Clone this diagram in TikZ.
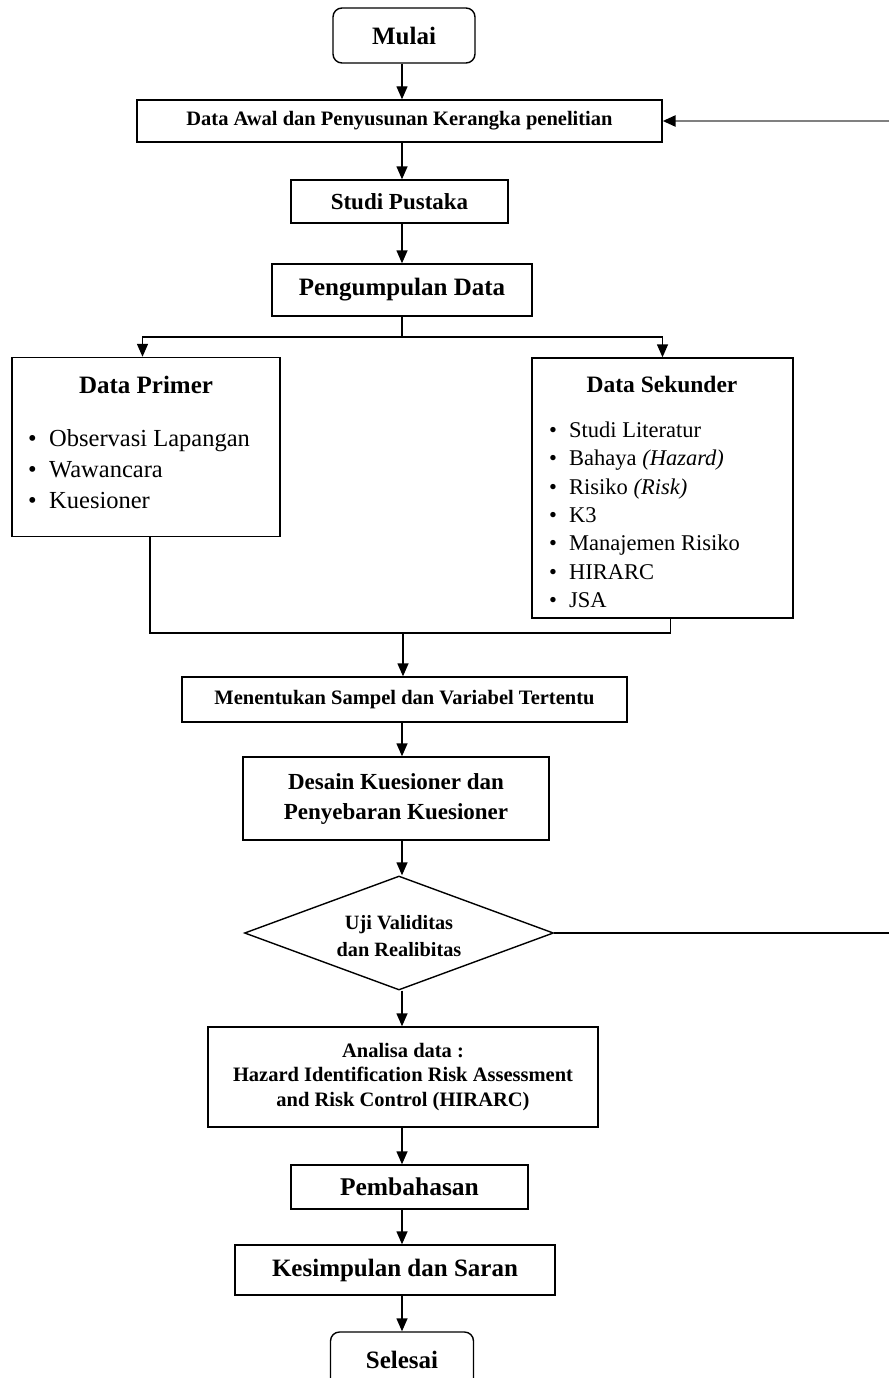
\documentclass[tikz,border=0pt]{standalone}
\usepackage{fontspec}
\setmainfont{Liberation Serif}
\usetikzlibrary{arrows.meta,shapes.geometric}
\begin{document}
\begin{tikzpicture}[x=1pt,y=-1pt,
  tip/.style={-{Triangle[width=11pt,length=13pt,color=black,fill=black]}},
  arr/.style={tip, line width=1.4pt},
  con/.style={line width=1.4pt},
  box/.style={draw, line width=1.4pt, rectangle, inner sep=0pt, align=center, font=\bfseries},
  term/.style={box, rounded corners=9pt},
  dec/.style={draw, line width=1.4pt, diamond, inner sep=0pt, align=center, aspect=2.7},
  ttl/.style={inner sep=0pt},
  item/.style={inner sep=0pt, anchor=base west},
  fz/.style={font=\fontsize{#1}{#1}\selectfont\bfseries}
]
\useasboundingbox[fill=white] (0,0) rectangle (889,1378);
\coordinate (col) at (402,0);

\node[term, minimum width=142pt, minimum height=55pt, fz=25] (mulai) at (404,35.5) {Mulai};
\node[box, minimum width=525pt, minimum height=42pt, fz=20.5] (awal) at (399.5,121) {Data Awal dan Penyusunan Kerangka penelitian};
\node[box, minimum width=217pt, minimum height=43pt, fz=23] (studi) at (399.5,201.5) {Studi Pustaka};
\node[box, minimum width=260pt, minimum height=52pt, fz=25] (kumpul) at (402,290) {Pengumpulan Data};

\node[box, minimum width=268pt, minimum height=179pt] (primer) at (146,447) {};
\node[ttl, font=\fontsize{25}{25}\selectfont\bfseries] (primert) at (146,385) {Data Primer};
\foreach \t [count=\i] in {Observasi Lapangan, Wawancara, Kuesioner}
  \node[item, font=\fontsize{24.5}{24.5}\selectfont] (p\i) at (28,{446+31*(\i-1)}) {\makebox[21pt][l]{\textbullet}\t};

\node[box, minimum width=261pt, minimum height=260pt] (sekunder) at (662.5,488) {};
\node[ttl, font=\fontsize{23.5}{23.5}\selectfont\bfseries] (sekundert) at (662,384) {Data Sekunder};
\foreach \t [count=\i] in {Studi Literatur, {Bahaya \textit{(Hazard)}}, {Risiko \textit{(Risk)}}, K3, Manajemen Risiko, HIRARC, JSA}
  \node[item, font=\fontsize{22.5}{22.5}\selectfont] (s\i) at (549,{437.5+28.3*(\i-1)}) {\makebox[20pt][l]{\textbullet}\t};

\node[box, minimum width=445pt, minimum height=45pt, fz=20.5] (tentu) at (404.5,699.5) {Menentukan Sampel dan Variabel Tertentu};
\node[box, minimum width=306pt, minimum height=83pt, font=\fontsize{23}{30}\selectfont\bfseries] (desain) at (396,798.5) {Desain Kuesioner dan\\Penyebaran Kuesioner};
\node[dec, minimum width=309pt, minimum height=114pt] (uji) at (399,933) {};
\node[inner sep=0pt, align=center, font=\fontsize{20.3}{27}\selectfont\bfseries] (ujit) at (399,936.5) {Uji Validitas\\dan Realibitas};
\node[box, minimum width=390pt, minimum height=100pt, font=\fontsize{20.5}{24.5}\selectfont\bfseries] (analisa) at (403,1077) {Analisa data :\\Hazard Identification Risk Assessment\\and Risk Control (HIRARC)};
\node[box, minimum width=237pt, minimum height=44pt, fz=25.5] (bahas) at (409.5,1187) {Pembahasan};
\node[box, minimum width=320pt, minimum height=50pt, fz=25] (simpul) at (395,1270) {Kesimpulan dan Saran};
\node[term, minimum width=143pt, minimum height=56pt, fz=25] (selesai) at (402,1360) {Selesai};

\coordinate (split) at (402,337);
\coordinate (merge) at (403,633);
\coordinate (rb) at (889,933);
\coordinate (rt) at (889,121);

\draw[arr] (mulai.south -| col) -- (awal.north -| col);
\draw[arr] (awal.south -| col) -- (studi.north -| col);
\draw[arr] (studi.south -| col) -- (kumpul.north -| col);
\draw[con] (kumpul.south -| col) -- (split);
\draw[arr] (split) -| ([xshift=-3.5pt]primer.north);
\draw[arr] (split) -| (sekunder.north);
\draw[con] ([xshift=4pt]primer.south) |- (merge);
\draw[con] (merge) -| ([xshift=8pt]sekunder.south);
\draw[arr] (merge) -- (tentu.north -| merge);
\draw[arr] (tentu.south -| col) -- (desain.north -| col);
\draw[arr] (desain.south -| col) -- (uji.north -| col);
\draw[arr] (uji.south -| col) -- (analisa.north -| col);
\draw[arr] (analisa.south -| col) -- (bahas.north -| col);
\draw[arr] (bahas.south -| col) -- (simpul.north -| col);
\draw[arr] (simpul.south -| col) -- (selesai.north -| col);
\draw[con] (uji.east) -- (rb);
\draw[tip, draw=gray, line width=2.6pt] (rt) -- (awal.east);
\end{tikzpicture}
\end{document}
